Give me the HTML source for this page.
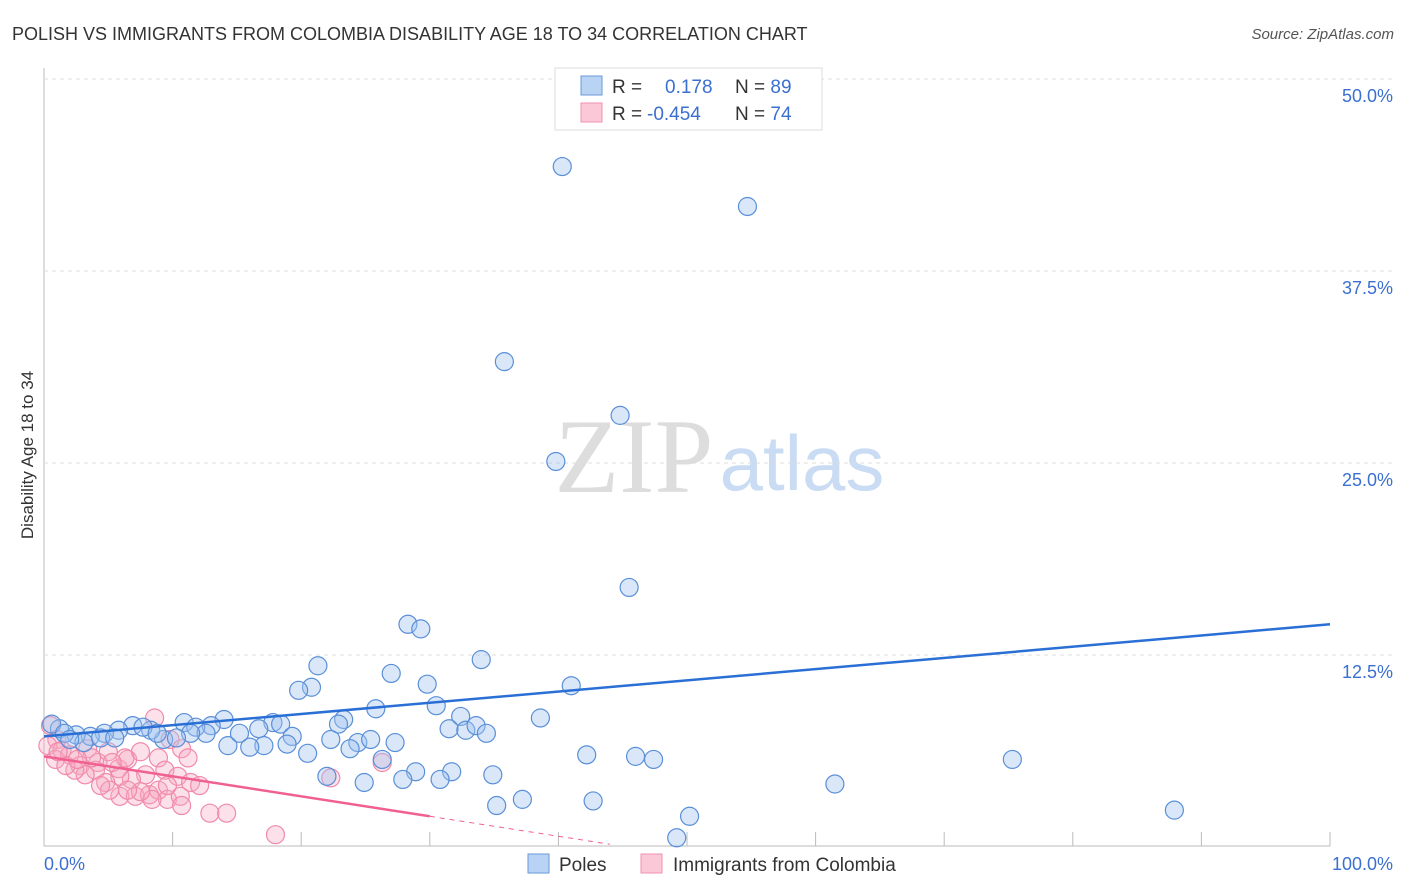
<!DOCTYPE html>
<html><head><meta charset="utf-8"><style>
body{margin:0;background:#fff;font-family:"Liberation Sans",sans-serif}
svg{display:block}
</style></head><body>
<svg id="chart" width="1406" height="892">
<text x="12" y="40" font-size="18" fill="#333">POLISH VS IMMIGRANTS FROM COLOMBIA DISABILITY AGE 18 TO 34 CORRELATION CHART</text>
<text x="1394" y="39" font-size="15" fill="#555" font-style="italic" text-anchor="end">Source: ZipAtlas.com</text>
<text transform="translate(33,455) rotate(-90)" font-size="17" fill="#333" text-anchor="middle">Disability Age 18 to 34</text>
<g><text x="634" y="492" font-size="106" font-family="Liberation Serif,serif" fill="#ddd" text-anchor="middle">ZIP</text><text x="802" y="490" font-size="78" fill="#c9dcf3" text-anchor="middle">atlas</text></g>
<g id="grid"></g><g id="marks"></g><g id="lines"></g>
<g>
<rect x="555" y="68" width="267" height="62" fill="#fff" stroke="#ddd"/>
<rect x="581" y="76" width="21" height="19" fill="#b9d3f5" stroke="#6a9ad8"/>
<rect x="581" y="103" width="21" height="19" fill="#fbc8d8" stroke="#f090b0"/>
<text x="612" y="93" font-size="19" fill="#333">R = <tspan x="665" fill="#3b6fd0">0.178</tspan><tspan x="735" fill="#333">N = </tspan><tspan fill="#3b6fd0">89</tspan></text>
<text x="612" y="120" font-size="19" fill="#333">R = <tspan x="647" fill="#3b6fd0">-0.454</tspan><tspan x="735" fill="#333">N = </tspan><tspan fill="#3b6fd0">74</tspan></text>
</g>
<g>
<rect x="528" y="854" width="21" height="19" fill="#b9d3f5" stroke="#6a9ad8"/>
<text x="559" y="871" font-size="19" fill="#333">Poles</text>
<rect x="641" y="854" width="21" height="19" fill="#fbc8d8" stroke="#f090b0"/>
<text x="673" y="871" font-size="19" fill="#333">Immigrants from Colombia</text>
</g>
</svg>
<script>
const yTicks=[12.5,25,37.5,50];
const yTickLabels=["12.5%","25.0%","37.5%","50.0%"];
const xTickLabels=["0.0%","100.0%"];
const polesX=[40.3,54.7,35.8,44.8,39.8,45.5,28.3,29.3,34.0,21.3,27.0,20.8,19.8,29.8,41.0,25.8,30.5,32.4,38.6,23.3,22.9,14.0,10.9,13.0,17.8,18.4,16.7,31.5,32.8,33.6,34.4,19.3,22.3,24.4,25.4,27.3,23.8,17.1,18.9,14.3,16.0,15.2,11.8,12.6,11.4,9.3,10.3,8.3,6.9,5.8,4.7,3.6,2.5,1.2,0.6,1.6,3.1,4.4,5.5,7.7,8.8,2.0,20.5,42.2,46.0,47.4,75.3,26.3,28.9,31.7,34.9,22.0,24.9,27.9,30.8,61.5,37.2,35.2,42.7,87.9,50.2,49.2];
const polesY=[44.3,41.7,31.6,28.1,25.1,16.9,14.5,14.2,12.2,11.8,11.3,10.4,10.2,10.6,10.5,9.0,9.2,8.5,8.4,8.3,8.0,8.3,8.1,7.9,8.1,8.0,7.7,7.7,7.6,7.9,7.4,7.2,7.0,6.8,7.0,6.8,6.4,6.6,6.7,6.6,6.5,7.4,7.8,7.4,7.4,7.0,7.1,7.6,7.9,7.6,7.4,7.2,7.3,7.7,8.0,7.4,6.8,7.1,7.1,7.8,7.4,7.0,6.1,6.0,5.9,5.7,5.7,5.7,4.9,4.9,4.7,4.6,4.2,4.4,4.4,4.1,3.1,2.7,3.0,2.4,2.0,0.6];
const colX=[8.6,0.5,1.0,0.3,1.4,0.9,2.0,2.8,3.4,4.2,5.0,5.8,6.5,7.5,8.9,9.8,10.7,11.2,9.4,10.4,11.4,12.1,7.9,6.8,5.9,4.8,4.0,3.2,2.4,1.7,5.9,7.1,8.2,8.9,9.6,10.6,8.4,7.5,6.5,5.1,4.4,12.9,14.2,18.0,22.3,26.3,6.3,5.3,1.1,3.7,2.6,9.6,10.7];
const colY=[8.4,7.9,7.0,6.6,6.3,5.7,6.0,5.3,6.4,5.5,6.2,5.1,5.7,6.2,5.8,7.0,6.4,5.8,5.0,4.6,4.2,4.0,4.7,4.4,4.6,4.2,5.0,4.7,5.0,5.3,3.3,3.3,3.4,3.7,3.1,3.3,3.1,3.6,3.7,3.7,4.0,2.2,2.2,0.8,4.5,5.5,5.8,5.5,6.2,5.8,5.7,4.0,2.7];
const polesTrend=[7.2,14.5];
const colTrend=[5.9,2.0];
const X=v=>44+v*12.86, Y=v=>847-v*15.36;
const NS="http://www.w3.org/2000/svg";
function mk(tag,attrs,parent){const e=document.createElementNS(NS,tag);for(const k in attrs)e.setAttribute(k,attrs[k]);document.getElementById(parent).appendChild(e);return e;}
let e=mk('line',{x1:44,y1:846,x2:1330,y2:846,stroke:'#bbb'},'grid');


e=mk('line',{x1:44,y1:68,x2:44,y2:846,stroke:'#bbb'},'grid');


for(let i=0;i<=10;i++){e=mk('line',{x1:X(i*10),y1:832,x2:X(i*10),y2:846,stroke:'#bbb'},'grid');

}
yTicks.forEach((t,i)=>{e=mk('line',{x1:44,y1:Y(t),x2:1394,y2:Y(t),stroke:'#ddd','stroke-dasharray':'4,4'},'grid');


e=mk('text',{x:1393,y:Y(t)+23,'font-size':18,fill:'#3b6fd0','text-anchor':'end'},'grid');e.textContent=yTickLabels[i];

});
e=mk('text',{x:44,y:870,'font-size':18,fill:'#3b6fd0'},'grid');e.textContent=xTickLabels[0];


e=mk('text',{x:1393,y:870,'font-size':18,fill:'#3b6fd0','text-anchor':'end'},'grid');e.textContent=xTickLabels[1];


colX.forEach((v,i)=>{e=mk('circle',{cx:X(v),cy:Y(colY[i]),r:9,fill:'rgba(246,170,196,0.35)',stroke:'#f08aaa','stroke-width':1.2},'marks');

});
polesX.forEach((v,i)=>{e=mk('circle',{cx:X(v),cy:Y(polesY[i]),r:9,fill:'rgba(160,196,240,0.4)',stroke:'#5a8fd8','stroke-width':1.2},'marks');

});
e=mk('line',{x1:X(0),y1:Y(polesTrend[0]),x2:X(100),y2:Y(polesTrend[1]),stroke:'#2a6fd6','stroke-width':2.5},'lines');


const s=(colTrend[1]-colTrend[0])/30;
e=mk('line',{x1:X(0),y1:Y(colTrend[0]),x2:X(30),y2:Y(colTrend[1]),stroke:'#f06090','stroke-width':2.5},'lines');


e=mk('line',{x1:X(30),y1:Y(colTrend[1]),x2:X(44),y2:Y(colTrend[0]+s*44),stroke:'#f06090','stroke-width':1,'stroke-dasharray':'5,5'},'lines');


</script>
</body></html>
